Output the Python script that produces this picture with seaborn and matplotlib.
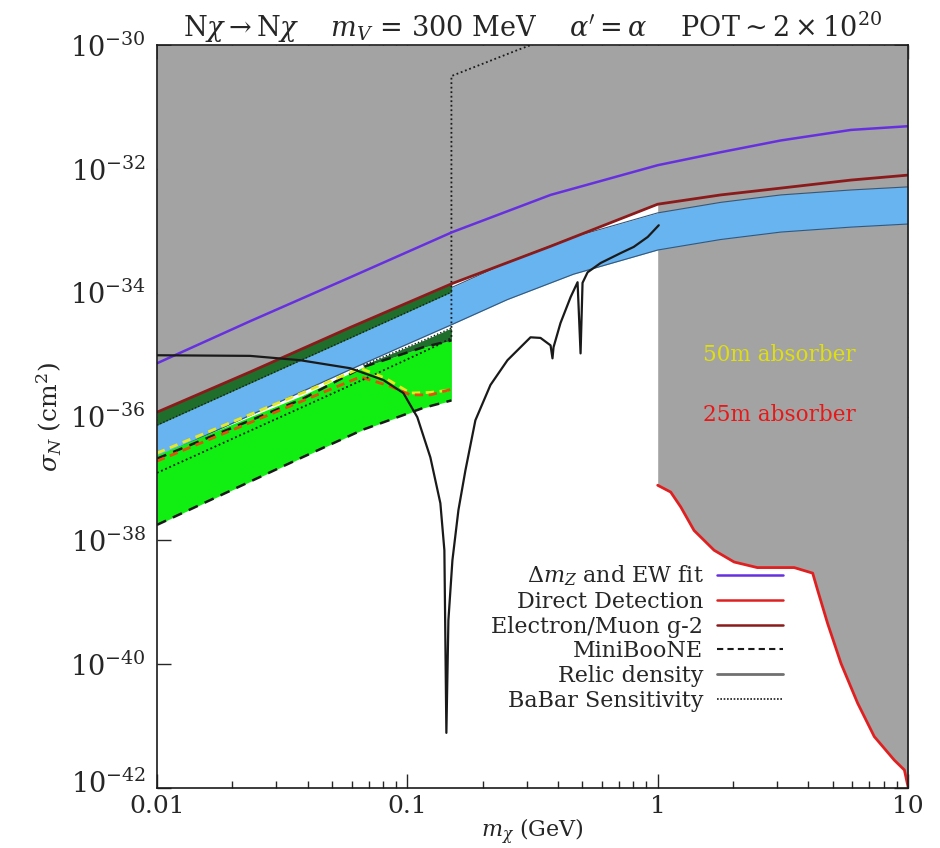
import numpy as np
import matplotlib
matplotlib.use("Agg")
import matplotlib.pyplot as plt
import matplotlib.transforms as mtransforms
import seaborn as sns
from matplotlib.lines import Line2D

# --- data (x: m_chi in GeV, y: log10 sigma_N / cm^2) ---
bound_m = [0.01, 0.02355, 0.0592, 0.1514, 0.3733, 1.0, 1.786, 3.105, 5.916, 10.0]
ew_fit_log = [-35.14, -34.46, -33.75, -33.02, -32.42, -31.94, -31.73, -31.54, -31.37, -31.31]
g2_log = [-35.93, -35.28, -34.56, -33.85, -33.25, -32.57, -32.42, -32.31, -32.18, -32.10]

relic_m = [0.01, 0.02355, 0.0592, 0.0938, 0.1514, 0.2512, 0.4613, 1.0, 1.786, 3.105, 5.916, 10.0]
relic_hi_log = [-36.06, -35.38, -34.64, -34.28, -33.91, -33.51, -33.10, -32.71, -32.54, -32.42, -32.34, -32.29]
relic_lo_log = [-36.66, -35.98, -35.24, -34.88, -34.51, -34.11, -33.70, -33.31, -33.14, -33.02, -32.94, -32.89]

dd_m = [1.0, 1.127, 1.236, 1.397, 1.68, 2.02, 2.50, 3.51, 4.16, 4.35, 4.77, 5.40, 6.29, 7.33, 8.81, 9.67, 10.0]
dd_log = [-37.11, -37.22, -37.46, -37.84, -38.16, -38.35, -38.44, -38.44, -38.53, -38.80, -39.34,
          -39.99, -40.63, -41.17, -41.55, -41.71, -41.98]

curve_m = [0.01, 0.02355, 0.0373, 0.0592, 0.0802, 0.0964, 0.1096, 0.1236, 0.1355, 0.1406, 0.1432,
           0.1459, 0.1514, 0.16, 0.1706, 0.187, 0.2148, 0.2512, 0.3105, 0.3404, 0.3733, 0.380,
           0.3837, 0.409, 0.449, 0.4786, 0.492, 0.501, 0.5248, 0.5916, 0.711, 0.802, 0.912, 1.01]
curve_log = [-35.01, -35.02, -35.09, -35.22, -35.41, -35.62, -36.01, -36.66, -37.40, -38.16, -41.11,
             -39.29, -38.32, -37.51, -36.87, -36.06, -35.49, -35.09, -34.72, -34.73, -34.85, -35.06,
             -34.88, -34.49, -34.07, -33.83, -34.98, -33.84, -33.67, -33.52, -33.36, -33.26, -33.10, -32.91]

dg_m = [0.01, 0.0592, 0.15]
dg_hi_log = [-35.93, -34.56, -33.86]
dg_lo_log = [-36.14, -34.73, -33.99]

green_m = [0.01, 0.038, 0.0667, 0.1159, 0.15]
green_hi_log = [-36.62, -35.66, -35.20, -34.88, -34.77]
green_lo_log = [-37.75, -36.66, -36.21, -35.86, -35.74]

wedge_m = [0.0667, 0.1159, 0.15]
wedge_hi_log = [-35.17, -34.77, -34.57]

yel_m = [0.01, 0.038, 0.0649, 0.0817, 0.1028, 0.1236, 0.15]
yel_log = [-36.59, -35.62, -35.22, -35.38, -35.62, -35.61, -35.57]
red25_m = [0.01, 0.038, 0.0649, 0.0855, 0.1028, 0.1236, 0.15]
red25_log = [-36.72, -35.75, -35.36, -35.51, -35.65, -35.65, -35.56]
mb_hi_log = [-36.68, -35.72, -35.20, -34.88, -34.77]

babar_m = [0.01, 0.038, 0.0731, 0.1318, 0.15, 0.15, 0.2754, 0.32]
babar_log = [-36.91, -35.85, -35.33, -34.85, -34.73, -30.50, -30.08, -29.98]

y_ticks_exp = [-30, -32, -34, -36, -38, -40, -42]
x_ticks = [0.01, 0.1, 1, 10]
x_tick_labels = ["0.01", "0.1", "1", "10"]


def v(a):
    return np.power(10.0, np.asarray(a, dtype=float))


sns.set_theme(style="ticks")
plt.rcParams["font.family"] = ["DejaVu Serif"]
plt.rcParams["mathtext.fontset"] = "dejavuserif"

GRAY = "#a3a3a3"
BLUE = "#68b4f0"
GREEN = "#11ee11"
DKGREEN = "#1f6e2c"
PURPLE = "#6630e0"
BROWN = "#8b1a1a"
RED = "#e02020"

fig = plt.figure(figsize=(9.4, 8.48), dpi=100)
ax = fig.add_axes([0.167, 0.0708, 0.799, 0.876])
ax.set_xscale("log")
ax.set_yscale("log")

# excluded (gray) region: above g-2 bound up to 1 GeV, above direct detection beyond
gray_m = bound_m[:6] + dd_m
gray_log = g2_log[:6] + dd_log
ax.fill_between(gray_m, v(gray_log), 1e-30, color=GRAY, lw=0, zorder=1)

# relic density band
ax.fill_between(relic_m, v(relic_lo_log), v(relic_hi_log), color=BLUE, lw=0, zorder=2)
for arr in (relic_hi_log, relic_lo_log):
    sns.lineplot(x=relic_m, y=v(arr), color="#35587a", lw=0.8, ax=ax, zorder=3)

# sensitivity regions
ax.fill_between(dg_m, v(dg_lo_log), v(dg_hi_log), color=DKGREEN, lw=0, zorder=3)
ax.fill_between(green_m, v(green_lo_log), v(green_hi_log), color=GREEN, lw=0, zorder=3)
ax.fill_between(wedge_m, v(green_hi_log[2:]), v(wedge_hi_log), color=DKGREEN, lw=0, zorder=3)

sns.lineplot(x=dg_m, y=v(dg_lo_log), color="k", lw=1.0, ls=(0, (1, 1.5)), ax=ax, zorder=4)
sns.lineplot(x=wedge_m, y=v(wedge_hi_log), color="k", lw=1.0, ls=(0, (1, 1.5)), ax=ax, zorder=4)
sns.lineplot(x=green_m, y=v(green_lo_log), color="k", lw=1.8, ls=(0, (4, 3)), ax=ax, zorder=4)
sns.lineplot(x=green_m, y=v(mb_hi_log), color="k", lw=1.8, ls=(0, (4, 3)), ax=ax, zorder=4)
sns.lineplot(x=yel_m, y=v(yel_log), color="#e8e820", lw=2.0, ls=(0, (3, 2)), ax=ax, zorder=5)
sns.lineplot(x=red25_m, y=v(red25_log), color="#e05010", lw=2.0, ls=(0, (3, 2)), ax=ax, zorder=5)
sns.lineplot(x=babar_m, y=v(babar_log), color="k", lw=1.3, ls=(0, (1, 1.5)), sort=False,
             estimator=None, ax=ax, zorder=5)

# bounds
sns.lineplot(x=bound_m, y=v(ew_fit_log), color=PURPLE, lw=1.8, ax=ax, zorder=6)
sns.lineplot(x=bound_m, y=v(g2_log), color=BROWN, lw=2.0, ax=ax, zorder=6)
sns.lineplot(x=dd_m, y=v(dd_log), color=RED, lw=2.0, ax=ax, zorder=6)
sns.lineplot(x=curve_m, y=v(curve_log), color="k", lw=1.6, sort=False, estimator=None, ax=ax, zorder=7)

ax.text(1.514, 10 ** -35.01, "50m absorber", color="#dede10", fontsize=15.5, va="center", zorder=8)
ax.text(1.514, 10 ** -35.98, "25m absorber", color="#e81818", fontsize=15.5, va="center", zorder=8)

ax.set_xlim(0.01, 10)
ax.set_ylim(1e-42, 1e-30)
ax.set_xticks(x_ticks)
ax.set_xticklabels(x_tick_labels)
ax.set_yticks([10.0 ** e for e in y_ticks_exp])
ax.set_yticklabels([r"$10^{%d}$" % e for e in y_ticks_exp])
ax.yaxis.set_minor_locator(matplotlib.ticker.NullLocator())
ax.tick_params(which="both", direction="in", top=True, right=True, width=1.0)
ax.tick_params(which="major", length=10)
ax.tick_params(which="minor", length=5)
ax.tick_params(axis="x", which="major", labelsize=18, pad=5)
ax.tick_params(axis="y", which="major", labelsize=19.5, pad=8)
for s in ax.spines.values():
    s.set_linewidth(1.2)
    s.set_color("k")
    s.set_zorder(10)

# nudge the lowest y label up so it clears the "0.01" label
low_lbl = ax.get_yticklabels()[-1]
low_lbl.set_transform(low_lbl.get_transform() + mtransforms.ScaledTranslation(0, 5 / 72, fig.dpi_scale_trans))

ax.set_xlabel(r"$m_\chi$ (GeV)", fontsize=16, labelpad=-1)
ax.set_ylabel(r"$\sigma_N$ (cm$^2$)", fontsize=18, labelpad=4)
ax.set_title(r"N$\chi\rightarrow$N$\chi$    $m_V$ = 300 MeV    $\alpha^\prime=\alpha$    POT$\sim 2\times10^{20}$",
             fontsize=19.5, pad=6)

handles = [
    Line2D([], [], color=PURPLE, lw=1.8),
    Line2D([], [], color=RED, lw=1.8),
    Line2D([], [], color=BROWN, lw=1.8),
    Line2D([], [], color="k", lw=1.5, ls=(0, (3, 2))),
    Line2D([], [], color="#707070", lw=2.0),
    Line2D([], [], color="k", lw=1.2, ls=(0, (1, 1))),
]
labels = [r"$\Delta m_Z$ and EW fit", "Direct Detection", "Electron/Muon g-2",
          "MiniBooNE", "Relic density", "BaBar Sensitivity"]
leg = ax.legend(handles, labels, loc="upper right", bbox_to_anchor=(0.834, 0.302), frameon=False,
                markerfirst=False, fontsize=16, handlelength=3.0, handletextpad=0.6,
                labelspacing=0.12, borderaxespad=0, borderpad=0)
leg.set_zorder(9)

fig.savefig("out.png", dpi=100, facecolor="white")
